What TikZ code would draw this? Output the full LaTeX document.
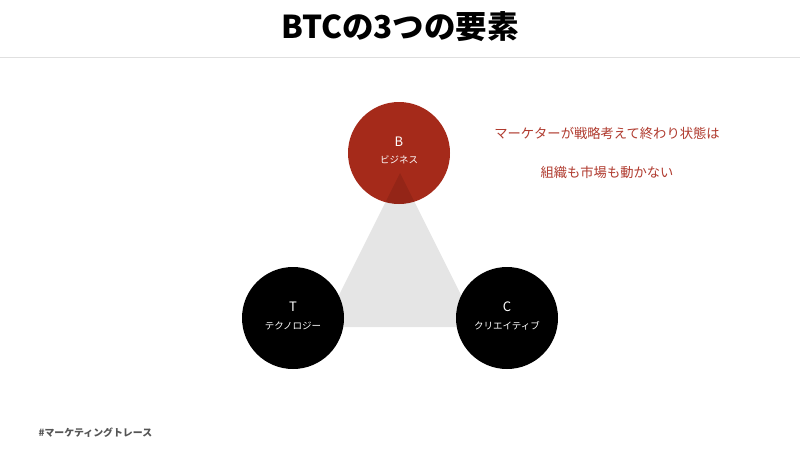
\documentclass[tikz,border=0pt]{standalone}
\usepackage{fontspec}
\setmainfont{Noto Sans CJK JP}
\definecolor{bred}{HTML}{A52A1A}
\definecolor{tred}{HTML}{B03A2E}
\definecolor{hline}{HTML}{E0E0E0}
\definecolor{hgray}{HTML}{555555}
\tikzset{
  ball/.style={circle, minimum size=102pt, inner sep=0pt},
  big/.style={text=white, font=\fontsize{13}{15}\selectfont},
  small/.style={text=white, font=\fontsize{9.5}{11}\selectfont},
  redtxt/.style={text=tred, font=\fontsize{13.3}{16}\selectfont}
}
\begin{document}
\begin{tikzpicture}[x=1pt,y=-1pt]
\useasboundingbox (0,0) rectangle (800,450);
\fill[white] (0,0) rectangle (800,450);
\node[font=\fontsize{31.5}{34}\selectfont\bfseries] (title) at (400,27) {BTCの3つの要素};
\draw[hline, line width=1.2pt] (0,57.5) -- (800,57.5);
\node[ball, fill=bred] (b) at (399,153) {};
\fill[black, opacity=0.1] (400,173) -- (323,327) -- (477,327) -- cycle;
\node[ball, fill=black] (t) at (293,318) {};
\node[ball, fill=black] (c) at (507,318) {};
\node[big] (bl) at (399,142) {B};
\node[small] (bs) at (399,160) {ビジネス};
\node[big] (tl) at (293,307) {T};
\node[small] (ts) at (293,326) {テクノロジー};
\node[big] (cl) at (507,307) {C};
\node[small] (cs) at (507,326) {クリエイティブ};
\node[redtxt] (r1) at (607,133) {マーケターが戦略考えて終わり状態は};
\node[redtxt] (r2) at (607,172) {組織も市場も動かない};
\node[text=hgray, font=\fontsize{9.9}{11}\selectfont\bfseries, anchor=west] (tag) at (35,433) {\#マーケティングトレース};
\end{tikzpicture}
\end{document}
